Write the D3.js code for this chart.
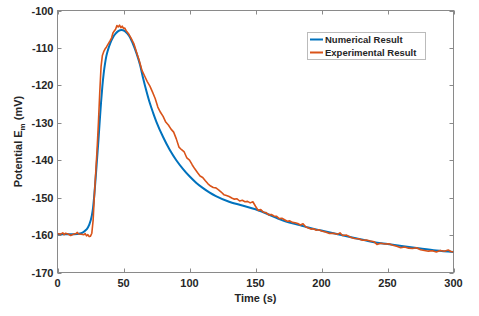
<!DOCTYPE html>
<html><head><meta charset="utf-8">
<script src="https://cdn.jsdelivr.net/npm/d3@7"></script>
<style>body{margin:0;background:#fff}svg{display:block}text{font-family:"Liberation Sans",Arial,sans-serif;font-weight:bold;fill:#262626}</style>
</head><body>
<script>
const xTicks=[0,50,100,150,200,250,300];
const yTicks=[-170,-160,-150,-140,-130,-120,-110,-100];
const seriesNames=["Numerical Result","Experimental Result"];
const numT=[0,5,10,15,18,20,22,24,26,27,28,29,30,31,32,33,34,35,36,37,38,40,42,44,46,48.5,51,53,55,57,60,62.5,65,67.5,70,72.5,75,80,85,90,95,100,105,110,115,120,130,140,150,160,167,175,184,190,200,215,225,237,250,262,275,287,300];
const numV=[-159.8,-159.8,-159.8,-159.7,-159.5,-159.1,-158.5,-157.3,-154.8,-152.5,-148.8,-144.3,-139.5,-134.7,-129.5,-124.5,-120.2,-116.8,-114.2,-112.2,-110.8,-108.7,-107.2,-106.2,-105.5,-105.2,-105.5,-106.2,-107.2,-108.8,-111.6,-114.5,-118.3,-121.7,-124.8,-127.4,-129.8,-133.8,-137.2,-140.0,-142.3,-144.3,-146.0,-147.4,-148.6,-149.6,-151.1,-152.1,-153.1,-154.5,-155.6,-156.6,-157.4,-158.0,-158.8,-160.0,-160.8,-161.7,-162.4,-163.0,-163.6,-164.1,-164.5];
const expT=[0,2,4,5,6,8,10,12,14,15,16,18,20,21,22,23,24,25,26,27,28,29,30,31,32,33,34,35,36,37,38,39,40,41,42,43,44,45,46,47,48,49,50,51,52,54,56,58,60,62,64,66,68,70,72,74,76,78,80,82,84,86,88,90,92,94,96,98,100,102,104,106,108,110,112,114,116,118,120,122,124,126,128,130,132,134,136,138,140,142,144,146,148,150,152,154,156,158,160,162,164,166,168,170,172,174,176,178,180,182,184,186,188,190,192,194,196,198,200,203,206,209,212,214,216,219,222,225,228,231,234,237,240,242,245,248,251,254,257,260,263,266,269,272,275,278,281,284,287,290,293,296,298,300];
const expV=[-159.6,-159.8,-159.4,-159.9,-159.5,-159.7,-160.1,-159.8,-159.6,-159.3,-159.7,-159.8,-159.9,-159.6,-160.2,-159.9,-160.4,-160.3,-159.5,-156.0,-149.0,-143.0,-137.0,-130.0,-122.0,-115.0,-112.0,-111.0,-110.3,-109.8,-109.2,-108.6,-108.0,-107.3,-106.0,-105.5,-105.0,-104.0,-104.4,-103.9,-104.6,-104.2,-104.8,-104.7,-105.4,-106.3,-107.6,-109.0,-111.3,-113.5,-116.0,-117.5,-119.0,-120.2,-121.8,-123.5,-125.8,-127.2,-128.3,-129.8,-130.6,-131.7,-132.5,-134.3,-136.5,-137.2,-137.8,-139.4,-140.0,-141.2,-142.3,-143.3,-144.2,-144.6,-145.5,-146.3,-146.9,-147.3,-147.4,-147.9,-148.5,-149.2,-149.4,-149.7,-150.1,-150.4,-150.3,-150.9,-150.7,-151.1,-151.0,-151.4,-151.1,-152.3,-153.4,-153.2,-153.9,-154.0,-154.6,-154.5,-154.9,-155.0,-155.6,-155.5,-155.9,-156.3,-156.2,-156.6,-156.7,-156.9,-157.3,-157.0,-157.8,-158.1,-158.4,-158.3,-158.7,-158.6,-158.9,-159.2,-159.6,-159.5,-159.8,-159.4,-160.1,-160.0,-160.6,-160.9,-161.0,-161.4,-161.3,-161.6,-161.8,-162.5,-162.2,-162.4,-162.3,-162.7,-163.0,-163.4,-163.2,-163.5,-163.6,-163.4,-163.9,-164.1,-164.3,-164.2,-164.5,-164.1,-164.3,-164.0,-164.4,-164.5];
const colors=["#0072BD","#D95319"];

const W=479,H=316;
const svg=d3.select("body").append("svg").attr("width",W).attr("height",H);
const L=57.5,R=453.5,T=10.5,B=272.5;
const x=d3.scaleLinear().domain([0,300]).range([L,R]);
const y=d3.scaleLinear().domain([-170,-100]).range([B,T]);
const axisCol="#8a8a8a";
// box
svg.append("rect").attr("x",L).attr("y",T).attr("width",R-L).attr("height",B-T).attr("fill","none").attr("stroke",axisCol).attr("stroke-width",1);
const tl=4;
const g=svg.append("g");
xTicks.forEach(t=>{
  const px=Math.round(x(t))+0.5;
  g.append("line").attr("x1",px).attr("x2",px).attr("y1",B).attr("y2",B-tl).attr("stroke",axisCol);
  g.append("line").attr("x1",px).attr("x2",px).attr("y1",T).attr("y2",T+tl).attr("stroke",axisCol);
  g.append("text").attr("x",x(t)).attr("y",B+14).attr("text-anchor","middle").attr("font-size",11).text(t);
});
yTicks.forEach(t=>{
  const py=Math.round(y(t))+0.5;
  g.append("line").attr("x1",L).attr("x2",L+tl).attr("y1",py).attr("y2",py).attr("stroke",axisCol);
  g.append("line").attr("x1",R).attr("x2",R-tl).attr("y1",py).attr("y2",py).attr("stroke",axisCol);
  g.append("text").attr("x",L-4).attr("y",y(t)+4).attr("text-anchor","end").attr("font-size",11).text(t);
});
svg.append("text").attr("x",(L+R)/2).attr("y",302).attr("text-anchor","middle").attr("font-size",11).text("Time (s)");
const yl=svg.append("text").attr("transform",`translate(22,${(T+B)/2}) rotate(-90)`).attr("text-anchor","middle").attr("font-size",11);
yl.append("tspan").text("Potential E");
yl.append("tspan").attr("font-size",8).attr("dy",3).text("m");
yl.append("tspan").attr("dy",-3).text(" (mV)");

const line=d3.line().x(d=>x(d[0])).y(d=>y(d[1]));
const clip=svg.append("clipPath").attr("id","c").append("rect").attr("x",L).attr("y",T).attr("width",R-L).attr("height",B-T);
const numData=numT.map((t,i)=>[t,numV[i]]);
const expData=expT.map((t,i)=>[t,expV[i]]);
svg.append("path").attr("d",line.curve(d3.curveMonotoneX)(numData)).attr("fill","none").attr("stroke",colors[0]).attr("stroke-width",2).attr("clip-path","url(#c)");
svg.append("path").attr("d",d3.line().x(d=>x(d[0])).y(d=>y(d[1])).curve(d3.curveLinear)(expData)).attr("fill","none").attr("stroke",colors[1]).attr("stroke-width",1.6).attr("stroke-linejoin","round").attr("clip-path","url(#c)");

// legend
const lg=svg.append("g");
lg.append("rect").attr("x",307.5).attr("y",32.5).attr("width",118).attr("height",27).attr("fill","#fff").attr("stroke","#bbb");
seriesNames.forEach((n,i)=>{
  const ly=39.5+i*13;
  lg.append("line").attr("x1",310).attr("x2",323).attr("y1",ly).attr("y2",ly).attr("stroke",colors[i]).attr("stroke-width",2);
  lg.append("text").attr("x",325).attr("y",ly+3.5).attr("font-size",9.5).text(n);
});
</script>
</body></html>
